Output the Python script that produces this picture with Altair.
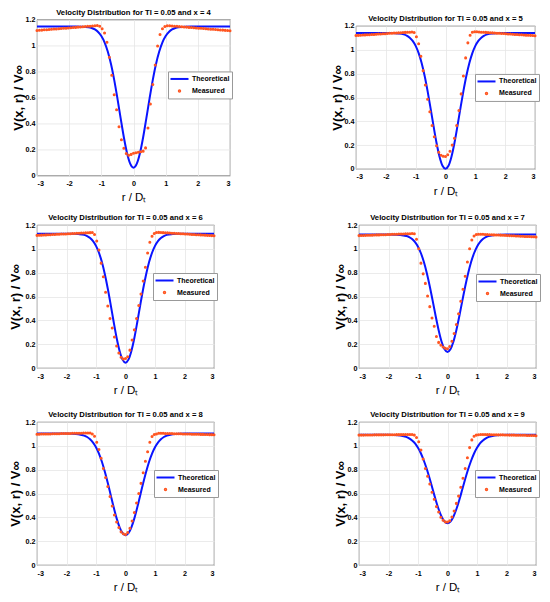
import altair as alt
import pandas as pd

FONT = "Liberation Sans"
BLUE = "#0a14ff"
ORANGE = "#ff5520"
SERIES = ["Theoretical", "Measured"]
LINE_SHAPE = "M-2,0L2,0"
DOT_SHAPE = "M0,-0.16A0.16,0.16,0,1,1,0,0.16A0.16,0.16,0,1,1,0,-0.16Z"

X_TICKS = [-3, -2, -1, 0, 1, 2, 3]
Y_TICKS = [0, 0.2, 0.4, 0.6, 0.8, 1, 1.2]
X_TITLE = "r / Dₜ"
Y_TITLE = "V(x, r) / V∞"
TITLES = ["Velocity Distribution for TI = 0.05 and x = 4",
          "Velocity Distribution for TI = 0.05 and x = 5",
          "Velocity Distribution for TI = 0.05 and x = 6",
          "Velocity Distribution for TI = 0.05 and x = 7",
          "Velocity Distribution for TI = 0.05 and x = 8",
          "Velocity Distribution for TI = 0.05 and x = 9"]

# theoretical curve sample positions (r / D_t)
R_THEO = [-3, -2.5, -2, -1.8, -1.6, -1.4, -1.3, -1.2, -1.1, -1.0, -0.9, -0.8, -0.7, -0.6, -0.5,
          -0.4, -0.3, -0.2, -0.1, 0, 0.1, 0.2, 0.3, 0.4, 0.5, 0.6, 0.7, 0.8, 0.9, 1.0, 1.1, 1.2,
          1.3, 1.4, 1.6, 1.8, 2, 2.5, 3]

THEO_4 = [1.145, 1.145, 1.145, 1.145, 1.144, 1.140, 1.134, 1.123, 1.104, 1.072, 1.024, 0.953, 0.857,
          0.735, 0.593, 0.441, 0.294, 0.171, 0.089, 0.060, 0.089, 0.171, 0.294, 0.441, 0.593, 0.735,
          0.857, 0.953, 1.024, 1.072, 1.104, 1.123, 1.134, 1.140, 1.144, 1.145, 1.145, 1.145, 1.145]
THEO_5 = [1.140, 1.140, 1.140, 1.140, 1.137, 1.129, 1.119, 1.102, 1.075, 1.033, 0.972, 0.889, 0.782,
          0.653, 0.509, 0.359, 0.218, 0.103, 0.027, 0.002, 0.027, 0.103, 0.218, 0.359, 0.509, 0.653,
          0.782, 0.889, 0.972, 1.033, 1.075, 1.102, 1.119, 1.129, 1.137, 1.140, 1.140, 1.140, 1.140]
THEO_6 = [1.127, 1.127, 1.127, 1.127, 1.124, 1.117, 1.107, 1.091, 1.065, 1.025, 0.967, 0.889, 0.787,
          0.665, 0.528, 0.386, 0.252, 0.143, 0.070, 0.045, 0.070, 0.143, 0.252, 0.386, 0.528, 0.665,
          0.787, 0.889, 0.967, 1.025, 1.065, 1.091, 1.107, 1.117, 1.124, 1.127, 1.127, 1.127, 1.127]
THEO_7 = [1.120, 1.120, 1.120, 1.119, 1.117, 1.108, 1.099, 1.082, 1.056, 1.018, 0.963, 0.889, 0.795,
          0.684, 0.561, 0.434, 0.317, 0.220, 0.157, 0.135, 0.157, 0.220, 0.317, 0.434, 0.561, 0.684,
          0.795, 0.889, 0.963, 1.018, 1.056, 1.082, 1.099, 1.108, 1.117, 1.119, 1.120, 1.120, 1.120]
THEO_8 = [1.103, 1.103, 1.103, 1.102, 1.098, 1.086, 1.074, 1.055, 1.027, 0.988, 0.934, 0.866, 0.783,
          0.688, 0.586, 0.484, 0.391, 0.316, 0.267, 0.250, 0.267, 0.316, 0.391, 0.484, 0.586, 0.688,
          0.783, 0.866, 0.934, 0.988, 1.027, 1.055, 1.074, 1.086, 1.098, 1.102, 1.103, 1.103, 1.103]
THEO_9 = [1.092, 1.092, 1.092, 1.091, 1.087, 1.075, 1.063, 1.045, 1.020, 0.983, 0.936, 0.875, 0.803,
          0.721, 0.633, 0.546, 0.468, 0.405, 0.364, 0.350, 0.364, 0.405, 0.468, 0.546, 0.633, 0.721,
          0.803, 0.875, 0.936, 0.983, 1.020, 1.045, 1.063, 1.075, 1.087, 1.091, 1.092, 1.092, 1.092]

# measured sample positions (r / D_t)
R_MEAS = [-3.000, -2.925, -2.850, -2.775, -2.700, -2.625, -2.550, -2.475, -2.400, -2.325, -2.250,
          -2.175, -2.100, -2.025, -1.950, -1.875, -1.800, -1.725, -1.650, -1.575, -1.500, -1.425,
          -1.350, -1.275, -1.200, -1.125, -1.050, -0.975, -0.900, -0.825, -0.750, -0.675, -0.600,
          -0.525, -0.450, -0.375, -0.300, -0.225, -0.150, -0.075, 0.000, 0.075, 0.150, 0.225,
          0.300, 0.375, 0.450, 0.525, 0.600, 0.675, 0.750, 0.825, 0.900, 0.975, 1.050, 1.125,
          1.200, 1.275, 1.350, 1.425, 1.500, 1.575, 1.650, 1.725, 1.800, 1.875, 1.950, 2.025,
          2.100, 2.175, 2.250, 2.325, 2.400, 2.475, 2.550, 2.625, 2.700, 2.775, 2.850, 2.925, 3.000]

MEAS_4 = [1.115, 1.117, 1.118, 1.120, 1.121, 1.123, 1.124, 1.126, 1.127, 1.129, 1.130, 1.132, 1.133,
          1.135, 1.136, 1.138, 1.139, 1.141, 1.142, 1.144, 1.145, 1.147, 1.148, 1.150, 1.151,
          1.154, 1.148, 1.128, 1.095, 1.025, 0.910, 0.770, 0.620, 0.505, 0.375, 0.275, 0.210, 0.169,
          0.155, 0.162, 0.170, 0.175, 0.178, 0.182, 0.187, 0.212, 0.365, 0.550, 0.700, 0.850, 0.995,
          1.085, 1.128, 1.145, 1.152, 1.151,
          1.150, 1.148, 1.147, 1.145, 1.144, 1.142, 1.141, 1.139, 1.138, 1.136, 1.135, 1.133, 1.132,
          1.130, 1.128, 1.127, 1.125, 1.124, 1.122, 1.121, 1.119, 1.118, 1.116, 1.115, 1.113]
MEAS_5 = [1.120, 1.121, 1.122, 1.124, 1.125, 1.126, 1.127, 1.128, 1.129, 1.131, 1.132, 1.133, 1.134,
          1.135, 1.136, 1.138, 1.139, 1.140, 1.141, 1.142, 1.143, 1.145, 1.146, 1.147, 1.148,
          1.150, 1.145, 1.110, 1.050, 0.945, 0.825, 0.705, 0.585, 0.480, 0.365, 0.270, 0.195, 0.140,
          0.115, 0.106, 0.105, 0.120, 0.148, 0.200, 0.258, 0.365, 0.490, 0.630, 0.780, 0.932, 1.058,
          1.122, 1.148, 1.152, 1.152, 1.150,
          1.148, 1.147, 1.146, 1.144, 1.143, 1.142, 1.141, 1.139, 1.138, 1.137, 1.136, 1.134, 1.133,
          1.132, 1.131, 1.129, 1.128, 1.127, 1.126, 1.124, 1.123, 1.122, 1.121, 1.119, 1.118]
MEAS_6 = [1.113, 1.114, 1.115, 1.116, 1.117, 1.118, 1.119, 1.120, 1.121, 1.122, 1.123, 1.124, 1.125,
          1.125, 1.126, 1.127, 1.128, 1.129, 1.130, 1.131, 1.132, 1.133, 1.134, 1.135, 1.136,
          1.137, 1.120, 1.065, 0.990, 0.880, 0.765, 0.635, 0.520, 0.415, 0.335, 0.260, 0.185, 0.125,
          0.090, 0.075, 0.080, 0.095, 0.150, 0.235, 0.320, 0.415, 0.525, 0.620, 0.730, 0.845, 0.965,
          1.055, 1.105, 1.128, 1.137, 1.138,
          1.137, 1.136, 1.135, 1.134, 1.133, 1.131, 1.130, 1.129, 1.128, 1.127, 1.126, 1.125, 1.124,
          1.122, 1.121, 1.120, 1.119, 1.118, 1.117, 1.116, 1.115, 1.113, 1.112, 1.111, 1.110]
MEAS_7 = [1.111, 1.112, 1.112, 1.113, 1.114, 1.114, 1.115, 1.116, 1.117, 1.117, 1.118, 1.119, 1.119,
          1.120, 1.121, 1.122, 1.122, 1.123, 1.124, 1.124, 1.125, 1.126, 1.126, 1.127, 1.128,
          1.127, 1.080, 1.000, 0.880, 0.790, 0.710, 0.605, 0.515, 0.420, 0.350, 0.265, 0.215, 0.192,
          0.176, 0.165, 0.162, 0.180, 0.225, 0.290, 0.365, 0.455, 0.560, 0.660, 0.770, 0.890, 1.000,
          1.075, 1.108, 1.120, 1.123, 1.123,
          1.122, 1.121, 1.120, 1.119, 1.118, 1.117, 1.116, 1.116, 1.115, 1.114, 1.113, 1.112, 1.111,
          1.110, 1.109, 1.108, 1.107, 1.106, 1.105, 1.104, 1.104, 1.103, 1.102, 1.101, 1.100]
MEAS_8 = [1.098, 1.098, 1.099, 1.099, 1.100, 1.100, 1.100, 1.101, 1.101, 1.102, 1.102, 1.103, 1.103,
          1.103, 1.104, 1.104, 1.105, 1.105, 1.105, 1.106, 1.106, 1.107, 1.107, 1.108, 1.108,
          1.100, 1.080, 1.030, 0.970, 0.895, 0.810, 0.735, 0.658, 0.575, 0.495, 0.420, 0.360, 0.315,
          0.278, 0.262, 0.255, 0.272, 0.308, 0.370, 0.440, 0.520, 0.600, 0.685, 0.775, 0.870, 0.950,
          1.030, 1.078, 1.095, 1.100, 1.105,
          1.105, 1.105, 1.104, 1.104, 1.103, 1.103, 1.102, 1.102, 1.101, 1.101, 1.100, 1.100, 1.099,
          1.099, 1.098, 1.098, 1.097, 1.097, 1.096, 1.096, 1.095, 1.095, 1.094, 1.094, 1.093]
MEAS_9 = [1.090, 1.090, 1.090, 1.091, 1.091, 1.091, 1.091, 1.092, 1.092, 1.092, 1.092, 1.092, 1.093,
          1.093, 1.093, 1.093, 1.093, 1.094, 1.094, 1.094, 1.094, 1.095, 1.095, 1.095, 1.095,
          1.090, 1.070, 1.035, 0.965, 0.890, 0.810, 0.745, 0.680, 0.611, 0.552, 0.490, 0.444, 0.400,
          0.376, 0.362, 0.360, 0.372, 0.402, 0.453, 0.517, 0.578, 0.652, 0.728, 0.810, 0.900, 0.985,
          1.050, 1.080, 1.090, 1.093, 1.095,
          1.095, 1.095, 1.094, 1.094, 1.093, 1.093, 1.093, 1.092, 1.092, 1.092, 1.091, 1.091, 1.090,
          1.090, 1.090, 1.089, 1.089, 1.088, 1.088, 1.088, 1.087, 1.087, 1.086, 1.086, 1.085]


def panel(title, theo, meas, width, height, legend_x, legend_y, ytitle_pad=0):
    theo_df = pd.DataFrame({"r": R_THEO, "v": theo, "series": "Theoretical"})
    meas_df = pd.DataFrame({"r": R_MEAS, "v": meas, "series": "Measured"})
    x = alt.X("r:Q", scale=alt.Scale(domain=[-3, 3], nice=False),
              axis=alt.Axis(values=X_TICKS, labelExpr="'' + datum.value", title=X_TITLE,
                            titleFontSize=11.5, titleFontWeight="normal", titlePadding=5,
                            labelPadding=4))
    y = alt.Y("v:Q", scale=alt.Scale(domain=[0, 1.2], nice=False),
              axis=alt.Axis(values=Y_TICKS, labelExpr="'' + datum.value", title=Y_TITLE,
                            titleFontSize=13, titleFontWeight="bold", titlePadding=ytitle_pad,
                            labelPadding=2))
    leg = alt.Legend(title=None, orient="none", legendX=legend_x, legendY=legend_y)
    color = alt.Color("series:N", scale=alt.Scale(domain=SERIES, range=[BLUE, ORANGE]), legend=leg)
    shape = alt.Shape("series:N", scale=alt.Scale(domain=SERIES, range=[LINE_SHAPE, DOT_SHAPE]),
                      legend=leg)
    line = alt.Chart(theo_df).mark_line(strokeWidth=2, interpolate="monotone").encode(
        x=x, y=y, color=color)
    pts = alt.Chart(meas_df).mark_point(filled=False, size=81, strokeWidth=1.6, opacity=1).encode(
        x=x, y=y, color=color, shape=shape)
    return alt.layer(line, pts).properties(width=width, height=height, title=title)


p1 = panel(TITLES[0], THEO_4, MEAS_4, 193, 156, 131, 52)
p2 = panel(TITLES[1], THEO_5, MEAS_5, 179, 143, 119, 48)
p3 = panel(TITLES[2], THEO_6, MEAS_6, 177, 143, 116, 48, ytitle_pad=3)
p4 = panel(TITLES[3], THEO_7, MEAS_7, 177, 143, 117, 49)
p5 = panel(TITLES[4], THEO_8, MEAS_8, 177, 143, 117, 48, ytitle_pad=3)
p6 = panel(TITLES[5], THEO_9, MEAS_9, 177, 143, 116, 48)

ind = dict(color="independent", shape="independent")
row1 = alt.hconcat(p1, p2, spacing=95, center=True).resolve_scale(**ind).resolve_legend(**ind)
row2 = alt.hconcat(p3, p4, spacing=114).resolve_scale(**ind).resolve_legend(**ind)
row3 = alt.hconcat(p5, p6, spacing=114).resolve_scale(**ind).resolve_legend(**ind)
lower = alt.vconcat(row2, row3, spacing=13).resolve_scale(**ind).resolve_legend(**ind)

chart = alt.vconcat(row1, lower, spacing=9).resolve_scale(**ind).resolve_legend(**ind).properties(
    padding=0
).configure_view(
    stroke="#262626", strokeWidth=0.8
).configure_axis(
    labelFont=FONT, labelFontWeight="bold", labelFontSize=7.2, labelColor="#000000",
    titleFont=FONT, titleColor="#000000", grid=True, gridColor="#e6e6e6", gridWidth=0.8,
    domain=False, ticks=False
).configure_title(
    font=FONT, fontSize=7.7, fontWeight="bold", color="#000000", offset=-1, anchor="middle",
    frame="group"
).configure_legend(
    labelFont=FONT, labelFontWeight="bold", labelFontSize=7, labelColor="#000000",
    padding=2, rowPadding=2, fillColor="#ffffff", strokeColor="#999999", cornerRadius=0,
    symbolSize=81, symbolStrokeWidth=2, labelOffset=7, symbolOffset=4
)

chart.save("out.html", embed_options={"renderer": "svg", "actions": False})
